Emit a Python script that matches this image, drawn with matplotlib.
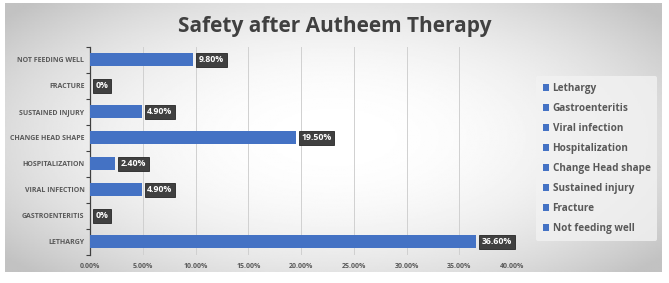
import numpy as np
import matplotlib.pyplot as plt
from matplotlib.patches import Patch

# Data
categories = ['Lethargy', 'Gastroenteritis', 'Viral infection', 'Hospitalization',
              'Change Head shape', 'Sustained injury', 'Fracture', 'Not feeding well']
values = [36.6, 0, 4.9, 2.4, 19.5, 4.9, 0, 9.8]
labels = ['36.60%', '0%', '4.90%', '2.40%', '19.50%', '4.90%', '0%', '9.80%']
x_ticks = [0, 5, 10, 15, 20, 25, 30, 35, 40]

plt.rcParams['font.family'] = ['Open Sans', 'DejaVu Sans']
bar_color = '#4472c4'
text_color = '#595959'

fig = plt.figure(figsize=(6.69, 2.83), dpi=100)

# gradient background of the chart area
bg = fig.add_axes([0.008, 0.04, 0.982, 0.95])
yy, xx = np.mgrid[-1:1:200j, -1:1:400j]
r = np.sqrt((xx * 0.85) ** 2 + (yy * 0.75) ** 2)
grad = np.clip(1 - 0.2 * r ** 2.2, 0.76, 1)
bg.imshow(grad, cmap='gray', vmin=0, vmax=1, aspect='auto', extent=[0, 1, 0, 1])
bg.axis('off')

ax = fig.add_axes([0.1345, 0.1, 0.631, 0.735])
ax.set_facecolor('none')
y = np.arange(len(categories))
ax.barh(y, values, height=0.52, color=bar_color, zorder=3)

for yi, v, lab in zip(y, values, labels):
    ax.annotate(lab, (v, yi), xytext=(4, 0), textcoords='offset points',
                va='center', ha='left', fontsize=6.3, fontweight='bold', color='white',
                bbox=dict(boxstyle='square,pad=0.3', fc='#404040', ec='#262626', lw=0.6),
                zorder=5)

ax.set_xlim(0, 40)
ax.set_ylim(-0.5, len(categories) - 0.5)
ax.set_xticks(x_ticks)
ax.set_xticklabels([f'{t:.2f}%' for t in x_ticks], fontsize=5, fontweight='bold', color=text_color)
ax.set_yticks(y)
ax.set_yticklabels([c.upper() for c in categories], fontsize=5, fontweight='bold', color=text_color)
ax.set_yticks(np.arange(-0.5, len(categories), 1), minor=True)
ax.tick_params(axis='y', which='major', length=0, pad=4)
ax.tick_params(axis='y', which='minor', length=3, color='#404040', width=0.8)
ax.tick_params(axis='x', length=0, pad=6)
ax.grid(axis='x', color='#d0d0d0', lw=0.7, zorder=0)
for s in ['top', 'right', 'bottom']:
    ax.spines[s].set_visible(False)
ax.spines['left'].set_color('#404040')
ax.spines['left'].set_linewidth(0.9)

fig.text(0.5, 0.905, 'Safety after Autheem Therapy', ha='center', va='center',
         fontsize=15, fontweight='bold', color='#404040')

handles = [Patch(facecolor=bar_color, label=c) for c in categories]
leg = fig.legend(handles=handles, loc='center left', bbox_to_anchor=(0.793, 0.44),
                 frameon=True, fontsize=7.2, handlelength=0.6, handleheight=0.6,
                 handletextpad=0.4, labelspacing=0.9, borderpad=0.7)
leg.get_frame().set_facecolor('#f2f2f2')
leg.get_frame().set_edgecolor('none')
leg.get_frame().set_alpha(0.8)
for t in leg.get_texts():
    t.set_color(text_color)
    t.set_fontweight('bold')

fig.savefig('out.png', dpi=100)
